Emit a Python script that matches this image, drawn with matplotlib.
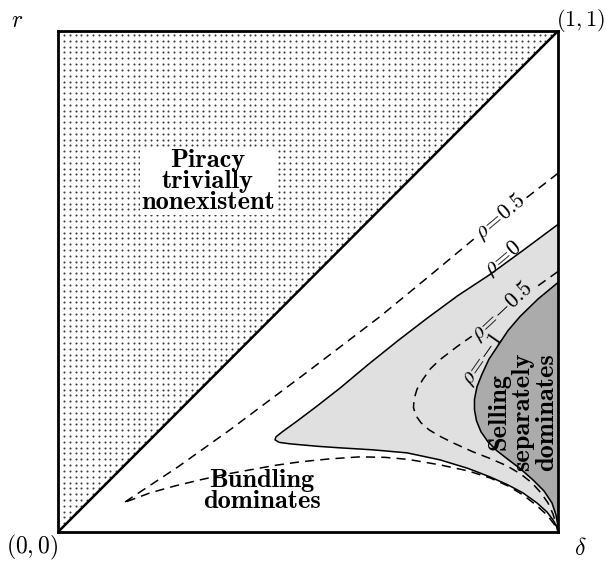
import numpy as np
import matplotlib.pyplot as plt
from matplotlib.patches import Polygon

plt.rcParams['mathtext.fontset'] = 'cm'

# curves (delta, r); each runs from the right edge,
# round the tip and back to the corner (1, 0)
rho_05_d = [1.0, 0.92, 0.838, 0.744, 0.644, 0.494, 0.344, 0.24, 0.134, 0.13,
            0.184, 0.234, 0.284, 0.334, 0.384, 0.434, 0.484, 0.544, 0.604, 0.654,
            0.70, 0.764, 0.82, 0.864, 0.90, 0.93, 0.956, 0.978, 0.992, 1.0]
rho_05_r = [0.716, 0.654, 0.59, 0.512, 0.43, 0.316, 0.204, 0.13, 0.06, 0.058,
            0.078, 0.092, 0.104, 0.115, 0.124, 0.133, 0.140, 0.146, 0.150, 0.149,
            0.145, 0.134, 0.122, 0.108, 0.092, 0.074, 0.054, 0.034, 0.016, 0.0]

rho_0_d = [1.0, 0.93, 0.864, 0.80, 0.74, 0.68, 0.62, 0.565, 0.515, 0.475,
           0.45, 0.436, 0.434, 0.442, 0.464, 0.52, 0.564, 0.63, 0.698, 0.764,
           0.82, 0.864, 0.90, 0.93, 0.958, 0.978, 0.99, 0.998, 1.0]
rho_0_r = [0.614, 0.562, 0.514, 0.472, 0.428, 0.382, 0.334, 0.288, 0.249, 0.219,
           0.201, 0.19, 0.184, 0.179, 0.176, 0.171, 0.168, 0.164, 0.158, 0.144,
           0.127, 0.11, 0.094, 0.078, 0.058, 0.040, 0.024, 0.010, 0.0]

rho_m05_d = [1.0, 0.958, 0.92, 0.884, 0.838, 0.798, 0.764, 0.745, 0.73, 0.718,
             0.712, 0.711, 0.716, 0.726, 0.742, 0.762, 0.79, 0.83, 0.866, 0.898,
             0.925, 0.948, 0.966, 0.98, 0.99, 0.996, 1.0]
rho_m05_r = [0.52, 0.49, 0.465, 0.44, 0.398, 0.37, 0.344, 0.326, 0.305, 0.285,
             0.265, 0.248, 0.232, 0.218, 0.204, 0.192, 0.178, 0.16, 0.146, 0.132,
             0.116, 0.098, 0.078, 0.058, 0.036, 0.016, 0.0]

rho_m1_d = [1.0, 0.96, 0.924, 0.9, 0.884, 0.862, 0.848, 0.838, 0.833, 0.833,
            0.837, 0.846, 0.86, 0.878, 0.9, 0.925, 0.95, 0.972, 0.988, 0.996,
            1.0, 1.0]
rho_m1_r = [0.498, 0.465, 0.43, 0.402, 0.378, 0.345, 0.315, 0.29, 0.265, 0.244,
            0.222, 0.2, 0.18, 0.162, 0.145, 0.126, 0.104, 0.082, 0.058, 0.034,
            0.012, 0.0]

fig = plt.figure(figsize=(6.06, 5.62), dpi=100)
ax = fig.add_axes([58 / 606, 30 / 562, 500 / 606, 501 / 562])
ax.set_xlim(0, 1)
ax.set_ylim(0, 1)
ax.set_xticks([])
ax.set_yticks([])
for s in ax.spines.values():
    s.set_linewidth(2)

# dotted triangle above the diagonal (square dot screen, clipped)
tri = Polygon([[0, 0], [0, 1], [1, 1]], closed=True, facecolor='none',
              edgecolor='none', transform=ax.transData)
ax.add_patch(tri)
gx, gy = np.meshgrid(np.arange(0.012, 1, 0.0116), np.arange(0.006, 1, 0.0116))
dots = ax.scatter(gx.ravel(), gy.ravel(), s=2.2, color='#3a3a3a', lw=0, zorder=1)
dots.set_clip_path(tri)
ax.plot([0, 1], [0, 1], color='black', lw=1.8, zorder=3)

# shaded regions
ax.fill(rho_0_d, rho_0_r, color='#e0e0e0', zorder=1)
ax.fill(rho_m1_d, rho_m1_r, color='#ababab', zorder=2)

ax.plot(rho_0_d, rho_0_r, color='black', lw=1.1, zorder=4)
ax.plot(rho_m1_d, rho_m1_r, color='black', lw=1.1, zorder=4)
ax.plot(rho_05_d, rho_05_r, color='black', lw=1.1, ls=(0, (6, 4)), zorder=4)
ax.plot(rho_m05_d, rho_m05_r, color='black', lw=1.1, ls=(0, (6, 4)), zorder=4)

lab = dict(fontsize=16, ha='center', va='center', rotation_mode='anchor', zorder=6)
ax.text(0.884, 0.628, r'$\rho\!=\!0.5$', rotation=40,
        bbox=dict(facecolor='white', edgecolor='none', pad=0.5), **lab)
ax.text(0.89, 0.545, r'$\rho\!=\!0$', rotation=40, **lab)
ax.text(0.888, 0.44, r'$\rho\!=\!{-}0.5$', rotation=43,
        bbox=dict(facecolor='#e0e0e0', edgecolor='none', pad=0.5), **lab)
ax.text(0.85, 0.345, r'$\rho\!=\!{-}1$', rotation=55, **lab)

txt = dict(fontsize=19, family='cmb10', ha='center', va='center', zorder=6)
ax.text(0.30, 0.70, 'Piracy\ntrivially\nnonexistent', linespacing=0.9,
        bbox=dict(facecolor='white', edgecolor='none', pad=1), **txt)
ax.text(0.408, 0.082, 'Bundling\ndominates', linespacing=0.9, **txt)
ax.text(0.93, 0.24, 'Selling\nseparately\ndominates', rotation=90,
        linespacing=1.05, **txt)

fig.text(17 / 606, 1 - 20 / 562, r'$r$', fontsize=17, ha='center', va='center')
fig.text(605 / 606, 1 - 20 / 562, r'$(1,1)$', fontsize=16, ha='right', va='center')
fig.text(32 / 606, 1 - 547 / 562, r'$(0,0)$', fontsize=17, ha='center', va='center')
fig.text(580 / 606, 1 - 548 / 562, r'$\delta$', fontsize=17, ha='center', va='center')

fig.savefig('out.png', dpi=100)
